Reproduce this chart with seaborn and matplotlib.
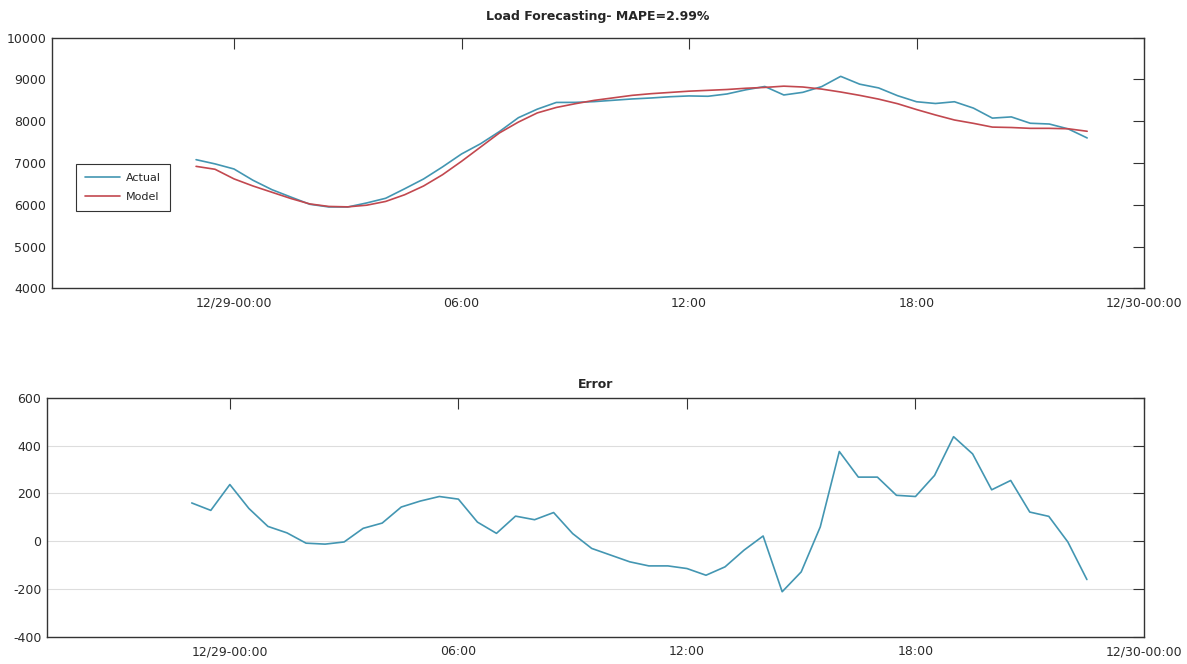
import pandas as pd
import matplotlib.pyplot as plt
import seaborn as sns

# half-hourly samples, 12/28 23:00 -> 12/29 22:30
times = pd.date_range('2021-12-28 23:00', periods=48, freq='30min')

actual = [7080, 6979, 6857, 6587, 6362, 6185, 6012, 5948, 5947, 6044,
          6156, 6383, 6618, 6907, 7216, 7460, 7753, 8085, 8290, 8450,
          8452, 8470, 8502, 8534, 8557, 8587, 8606, 8598, 8653, 8753,
          8832, 8629, 8692, 8830, 9075, 8888, 8798, 8612, 8467, 8425,
          8467, 8315, 8075, 8104, 7952, 7934, 7817, 7600]

model = [6920, 6850, 6620, 6450, 6300, 6150, 6020, 5960, 5950, 5990,
         6080, 6240, 6450, 6720, 7040, 7380, 7720, 7980, 8200, 8330,
         8420, 8500, 8560, 8620, 8660, 8690, 8720, 8740, 8760, 8790,
         8810, 8840, 8820, 8770, 8700, 8620, 8530, 8420, 8280, 8150,
         8030, 7950, 7860, 7850, 7830, 7830, 7820, 7760]

error = [160, 129, 237, 137, 62, 35, -8, -12, -3, 54,
         76, 143, 168, 187, 176, 80, 33, 105, 90, 120,
         32, -30, -58, -86, -103, -103, -114, -142, -107, -37,
         22, -211, -128, 60, 375, 268, 268, 192, 187, 275,
         437, 365, 215, 254, 122, 104, -3, -160]

tick_times = pd.to_datetime(['2021-12-29 00:00', '2021-12-29 06:00', '2021-12-29 12:00',
                             '2021-12-29 18:00', '2021-12-30 00:00'])
tick_labels = ['12/29-00:00', '06:00', '12:00', '18:00', '12/30-00:00']

x_min = pd.Timestamp('2021-12-28 19:12')
x_max = pd.Timestamp('2021-12-30 00:00')

ACTUAL_COLOR = '#4396b2'
MODEL_COLOR = '#c2484f'
AXIS_COLOR = '#333333'


def style_axes(ax, yticks):
    ax.set_xlim(x_min, x_max)
    ax.set_xticks(tick_times)
    ax.set_xticklabels(tick_labels)
    ax.set_yticks(yticks)
    ax.set_ylim(yticks[0], yticks[-1])
    ax.set_xlabel('')
    ax.set_ylabel('')
    ax.tick_params(direction='in', length=8, width=0.8, color=AXIS_COLOR,
                   labelsize=9, labelcolor='#2b2b2b', top=True, right=True)
    ax.tick_params(axis='y', pad=4)
    ax.tick_params(axis='x', pad=6)
    for s in ax.spines.values():
        s.set_color(AXIS_COLOR)
        s.set_linewidth(1.0)


def main():
    sns.set_style('white')
    plt.rcParams['font.family'] = ['DejaVu Sans']
    plt.rcParams['axes.unicode_minus'] = False

    fig = plt.figure(figsize=(11.87, 6.64), dpi=100)
    ax1 = fig.add_axes([0.0438, 0.5658, 0.9200, 0.3774])
    ax2 = fig.add_axes([0.0396, 0.0407, 0.9242, 0.3604])

    df = pd.DataFrame({'time': times, 'Actual': actual, 'Model': model, 'Error': error})

    sns.lineplot(data=df, x='time', y='Actual', ax=ax1, color=ACTUAL_COLOR,
                 linewidth=1.2, label='Actual')
    sns.lineplot(data=df, x='time', y='Model', ax=ax1, color=MODEL_COLOR,
                 linewidth=1.2, label='Model')
    style_axes(ax1, [4000, 5000, 6000, 7000, 8000, 9000, 10000])
    ax1.set_title('Load Forecasting- MAPE=2.99%', fontsize=9, fontweight='bold', pad=13)
    leg = ax1.legend(loc='lower left', bbox_to_anchor=(0.022, 0.31), borderaxespad=0,
                     fontsize=8, fancybox=False, framealpha=1, edgecolor=AXIS_COLOR,
                     handlelength=3.2, borderpad=0.8, labelspacing=0.8, handletextpad=0.5)
    leg.get_frame().set_linewidth(0.8)

    sns.lineplot(data=df, x='time', y='Error', ax=ax2, color=ACTUAL_COLOR, linewidth=1.2)
    style_axes(ax2, [-400, -200, 0, 200, 400, 600])
    ax2.grid(axis='y', color='#dddddd', linewidth=0.8)
    ax2.set_axisbelow(True)
    ax2.set_title('Error', fontsize=9, fontweight='bold', pad=7)

    fig.savefig('out.png', dpi=100, facecolor='white')


if __name__ == '__main__':
    main()
